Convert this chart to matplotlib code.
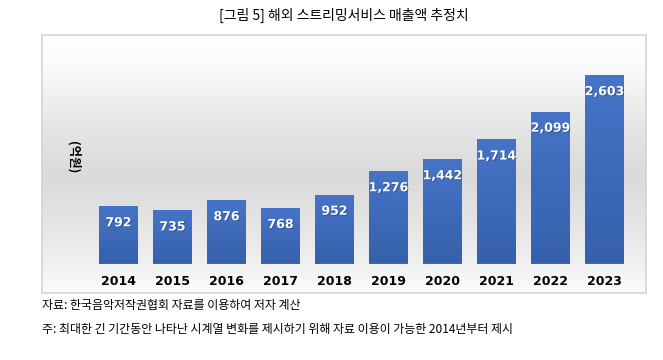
import numpy as np
import matplotlib
matplotlib.use("Agg")
import matplotlib.pyplot as plt
from matplotlib.colors import LinearSegmentedColormap
import matplotlib.patheffects as pe

plt.rcParams['font.family'] = ['Noto Sans CJK KR', 'DejaVu Sans']

years = ["2014", "2015", "2016", "2017", "2018", "2019", "2020", "2021", "2022", "2023"]
values = [792, 735, 876, 768, 952, 1276, 1442, 1714, 2099, 2603]
value_labels = ["792", "735", "876", "768", "952", "1,276", "1,442", "1,714", "2,099", "2,603"]

title = "[그림 5] 해외 스트리밍서비스 매출액 추정치"
ylabel = "(억원)"
note1 = "자료: 한국음악저작권협회 자료를 이용하여 저자 계산"
note2 = "주: 최대한 긴 기간동안 나타난 시계열 변화를 제시하기 위해 자료 이용이 가능한 2014년부터 제시"

W, H = 663, 360
fig = plt.figure(figsize=(W / 100, H / 100), dpi=100)

# background frame with gradient
fx0, fx1, fy0, fy1 = 42, 646, 35, 293
bg = fig.add_axes([fx0 / W, 1 - fy1 / H, (fx1 - fx0) / W, (fy1 - fy0) / H])
bg_cmap = LinearSegmentedColormap.from_list(
    "bg", [(0.0, "#ffffff"), (0.12, "#fbfbfb"), (0.35, "#e6e6e6"),
           (0.55, "#dadada"), (0.8, "#e9e9e9"), (1.0, "#fbfbfb")])
grad = np.linspace(0, 1, 256).reshape(-1, 1)
bg.imshow(grad, aspect="auto", cmap=bg_cmap, extent=[0, 1, 0, 1], origin="upper")
bg.set_xlim(0, 1); bg.set_ylim(0, 1)
bg.set_xticks([]); bg.set_yticks([])
for s in bg.spines.values():
    s.set_color("#d4d4d4"); s.set_linewidth(1.2)

# main axes
base_y = 263.5
top_y = 40
ax = fig.add_axes([91.5 / W, 1 - base_y / H, 540 / W, (base_y - top_y) / H])
ax.patch.set_alpha(0)
x = np.arange(len(years))
bars = ax.bar(x, values, width=0.72, color="#4068b8", zorder=2)

bar_cmap = LinearSegmentedColormap.from_list("bar", ["#4674c8", "#3660aa"])
for b in bars:
    bx, bw, bh = b.get_x(), b.get_width(), b.get_height()
    im = ax.imshow(grad, aspect="auto", cmap=bar_cmap,
                   extent=[bx, bx + bw, 0, bh], origin="upper", zorder=3)
    im.set_clip_path(b)
ax.set_xlim(-0.5, len(years) - 0.5)
ax.set_ylim(0, (base_y - top_y) / 0.0724)

for xi, v, lab in zip(x, values, value_labels):
    ax.annotate(lab, (xi, v), xytext=(0, -12), textcoords="offset points",
                ha="center", va="center", color="white", fontsize=9,
                fontweight="bold", family="DejaVu Sans", zorder=4,
                path_effects=[pe.withSimplePatchShadow(offset=(0.6, -0.6),
                                                       shadow_rgbFace="#1f3a70", alpha=0.6)])

ax.set_xticks(x)
ax.set_xticklabels(years, fontsize=9, fontweight="bold", family="DejaVu Sans")
ax.tick_params(axis="x", length=0, pad=8)
ax.set_yticks([])
for s in ax.spines.values():
    s.set_visible(False)

fig.text(344 / W, 1 - 15 / H, title, ha="center", va="center", fontsize=10)
fig.text(73 / W, 1 - 157 / H, ylabel, ha="center", va="center", fontsize=9,
         rotation=-90, fontweight="bold")
fig.text(42 / W, 1 - 305 / H, note1, ha="left", va="center", fontsize=8.6)
fig.text(42 / W, 1 - 329 / H, note2, ha="left", va="center", fontsize=8.6)

fig.savefig("out.png", dpi=100)
